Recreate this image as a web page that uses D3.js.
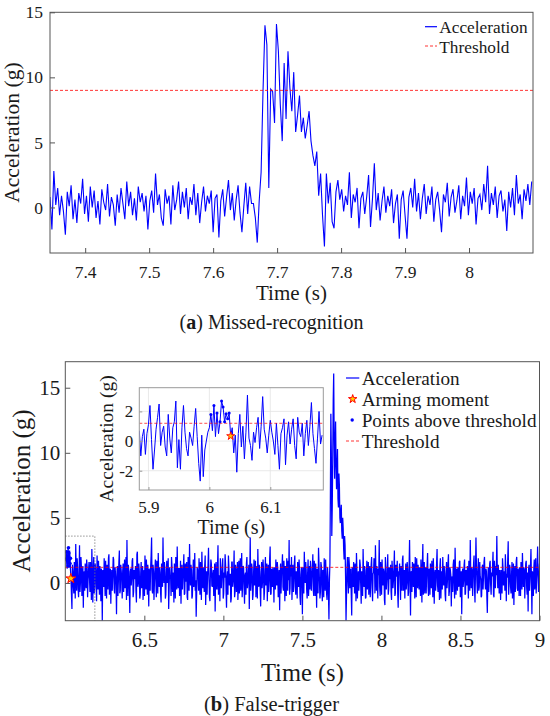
<!DOCTYPE html>
<html>
<head>
<meta charset="utf-8">
<script src="https://cdn.jsdelivr.net/npm/d3@7"></script>
<style>
body { margin: 0; background: #fff; }
svg { display: block; }
</style>
</head>
<body>
<script>
// (a) missed recognition, sampled every 3 ms from 7.345 s
var topT0 = 7.345, topDt = 0.003;
var topAcc = [
  0.8, -1.7, 2.8, 0.2, 1.5, -0.6, 0.9, -0.3, -2.1, 1.2, 0.1, 1.7,
  -0.9, 0.6, -1.2, 1.1, 0.3, 2.2, -0.5, 0.9, -1.1, 1.6, 0.0, 1.3,
  -0.8, 0.5, -1.3, 1.4, 0.4, -0.2, 1.8, -0.7, 0.8, 0.2, -1.4, 1.0,
  -0.4, 1.5, 0.3, -0.9, 2.0, 0.1, 1.2, -0.6, 0.7, -1.0, 1.6, 0.4,
  1.1, -0.3, 0.9, -1.7, 0.5, 1.3, -0.4, 2.6, 0.2, 1.0, -0.8, -1.4,
  1.4, 0.3, 0.9, -1.3, 1.7, -0.2, 0.6, 2.0, -0.5, 1.2, 0.0, 1.5,
  -0.9, 0.8, 0.2, 1.8, -0.6, 1.1, -1.2, 0.4, 1.6, -0.3, 0.9, 0.3,
  1.3, -1.9, 0.7, 1.0, -2.3, 0.5, 1.4, -0.7, 0.8, 2.1, -0.2, 1.1,
  -1.0, 0.6, 1.7, -0.4, -1.9, 0.1, 1.9, -0.5, 1.6, 0.3, 0.3, -0.8,
  -2.7, 0.5, 2.7, 9.0, 14.0, 12.5, 1.5, 9.1, 8.9, 6.5, 14.1, 12.0,
  7.9, 5.1, 11.1, 6.8, 12.0, 9.2, 7.4, 10.4, 5.8, 7.1, 8.6, 5.8,
  6.9, 5.3, 6.3, 7.4, 5.1, 4.0, 3.2, 4.3, 0.9, 2.6, -0.6, -3.0,
  2.6, 0.3, 1.9, -1.1, -1.6, 1.2, 2.1, 0.6, 1.4, -0.3, 0.9, 0.2,
  2.7, -0.8, 1.0, 0.4, 1.5, -1.6, 0.7, 1.2, -0.5, 0.8, 2.5, -1.5,
  0.6, 3.4, -0.2, 1.1, -1.0, 0.5, 1.6, -0.4, 0.9, 0.1, 1.4, -1.2,
  0.3, 1.0, -2.4, 0.6, 1.3, -0.6, -2.4, 0.8, 1.5, 0.0, 2.2, -0.3,
  1.1, -0.9, 0.7, 1.8, -0.5, 0.9, 0.2, 1.6, -1.1, 0.6, 1.2, -0.2,
  -1.9, 1.0, 0.4, 1.9, -0.7, 0.8, 1.4, -0.4, 0.5, 1.7, -0.9, 0.9,
  0.1, 2.3, -0.6, 1.2, 0.3, 1.5, -1.3, 0.7, 1.0, -0.2, 1.8, 0.4,
  3.2, -0.5, 1.1, 0.2, 1.6, -0.8, 0.9, 1.3, -0.3, 0.6, -1.8, 1.2,
  0.0, 1.5, -0.6, 2.5, 0.3, 1.0, -0.9, 1.4, 0.5, 1.8, 0.2, 2.0
];
var topThreshold = 9;
var topXTicks = [7.4, 7.5, 7.6, 7.7, 7.8, 7.9, 8];
var topYTicks = [0, 5, 10, 15];

// (b) false trigger, 3 ms samples from 6.0 s, kept as the 6 ms grid
// (even samples) plus the samples half way between them (odd samples)
var botT0 = 6.0, botDt = 0.003;
var botAccEven = [
  1.8, 2.4, 1.1, 2.7, 1.7, 1.9, 0.35, -2.0, 0.9, -0.8, 0.2, 3.0, -0.6, 1.1, -1.1, 2.9, 0.1, 1.2, 0.4, -1.9,
  0.9, 1.5, -0.4, 1.3, 0.2, 1.6, -0.7, 0.5, 2.6, -1.5, 2.0, -0.3, 1.0, -1.4, 0.6, 1.7, -0.9, 0.4, 1.1, -2.9,
  0.7, 1.9, -1.0, 0.3, 1.4, -0.5, 2.2, 0.1, -1.6, 1.0, 0.5, 1.8, -0.8, 0.6, -2.4, 1.3, 0.2, 2.5, -0.6, 0.9,
  -1.2, 1.5, 0.3, -0.4, 2.0, 3.3, -1.0, 0.8, -2.3, 1.1, 0.4, 1.9, -0.7, 0.6, 1.3, -1.5, 2.4, 0.0, 0.9, -0.9,
  1.6, 0.2, -1.3, 1.0, 2.1, -0.5, 0.7, 1.4, -1.8, 0.4, 1.2, 3.5, -0.8, 0.9, 0.1, 1.8, -1.1, 0.5, 2.3, -0.3,
  0.8, -1.5, 1.3, 3.5, 0.0, 1.0, -0.9, 1.7, 0.3, -2.0, 1.2, 0.6, 2.0, -0.7, 0.4, 1.5, -1.2, 0.9, 2.8, -0.4,
  1.1, 0.2, -1.6, 1.4, 0.5, 2.2, -0.8, 0.7, 1.6, -1.3, 0.3, 3.0, -0.2, 1.0, -1.0, 1.8, 0.4, -0.6, -2.6, 1.2,
  0.6, 1.9, -0.9, 0.8, 2.4, -0.4, 0.1, 1.3, -1.7, 0.9, 0.5, 2.7, -1.1, 0.7, 1.5, -0.3, 1.0, 0.2, -2.2, 1.6,
  -0.5, 2.9, 0.3, -1.4, 1.2, 0.6, 1.9, -0.8, 0.4, 1.4, -1.9, 0.9, 2.1, -0.2, 0.7, -1.2, 1.6, 0.1, 2.5, -0.7,
  1.0, 0.3, -1.3, 1.7, 0.5, -0.6, 2.3, 0.0, 1.2, -1.6, 0.8, 1.5, -0.4, 0.6, -2.0, 3.5, 0.2, 1.1, -0.9, 1.8,
  0.4, -1.1, 1.3, 2.6, -0.3, 0.9, -1.8, 1.6, 0.2, 1.0, -0.7, 2.0, 0.5, -1.4, 1.4, 0.1, 2.8, -0.8, 0.7, 1.2,
  -1.5, 0.6, 1.8, -0.2, 1.1, 0.3, -2.1, 1.5, 0.8, 2.2, -0.6, 0.4, 1.3, -1.0, 0.9, 1.7, 3.3, -0.4, 0.5, -1.3,
  1.4, 0.2, 2.1, -0.9, 0.7, 1.6, -0.3, 0.9, -1.7, 1.2, -2.4, 0.6, 2.4, 0.0, 1.0, -1.2, 1.8, 0.3, -0.5, 1.1,
  0.5, 2.2, -1.0, 0.8, 1.5, -1.9, 0.4, 2.7, 0.1, -0.7, 1.3, -1.4, 0.9, 1.9, -0.6, 0.6, -1.3,
  0.4, -2.8, 1.5, 13.0, 3.6, 9.5, 16.1, 8.0, 12.4, 7.2, 10.3, 5.8, 7.5, 4.6, 6.0, 3.4, 4.2, 1.8, 2.9, -2.9, 1.2, 0.3, 2.0,
  -0.4, 1.1, -2.5, 0.7, 1.6, -0.8, 0.5, 2.3, -1.2, 0.9, 0.2, 1.4, -1.6, 0.6, 2.6, -0.3, 1.0, -1.1, 1.7, 0.4,
  -0.9, 1.3, 0.1, 2.0, -1.4, 0.8, 1.5, 2.9, -0.6, 0.4, 1.1, 3.3, -1.0, 0.7, 1.8, -0.2, 0.9, -1.7, 1.2, 0.3,
  2.2, -0.5, 0.6, 1.4, -1.3, 1.0, 0.2, 2.5, -0.8, 0.5, 1.7, -1.9, 0.8, 0.0, 1.3, -0.6, 2.1, 0.4, -1.2, 1.5,
  0.1, 1.0, -0.7, 3.3, -2.5, 0.9, 1.6, -0.3, 0.6, 2.0, -1.1, 0.7, 1.4, -0.5, 0.2, 1.8, -1.5, 3.0, 0.4, -0.8,
  1.2, 0.5, 2.3, -1.0, 0.8, 1.5, -0.4, 0.3, 1.9, -1.6, 1.0, 0.2, 2.6, -0.7, 0.6, 1.3, -1.2, 0.9, 2.0, -0.2,
  0.7, -1.4, 1.6, 0.3, 2.2, -0.6, 1.0, -1.8, 0.5, 1.4, 0.0, 2.7, -0.9, 0.8, 1.2, -0.3, 1.7, 0.4, -2.4, 1.1,
  0.2, 1.8, -0.8, 0.6, 1.3, -1.2, 0.9, 3.3, -0.4, 1.0, 0.5, 2.1, -1.5, 3.5, 0.1, 0.8, -0.6, 1.6, 0.3, -1.0,
  1.4, 0.6, 2.0, -0.5, 0.9, -2.3, 1.2, 0.2, 1.7, -0.9, 0.5, 2.4, -1.1, 0.8, 1.3, 3.6, -0.4, 0.7, 1.0, -1.3,
  0.6, 1.9, -0.2, 0.9, 2.2, -1.4, 0.4, 3.2, 0.0, 1.1, -0.8, 1.6, 0.3, -1.7, 1.3, 0.7, 2.0, -0.6, 0.5, 1.2,
  -1.0, 0.8, 2.3, -0.3, 1.0, 0.4, 1.7, -0.9, -2.2, 1.4, 0.2, 2.6, -2.4, 0.6, 1.1, -0.5, 1.9, 0.3, 2.8, -0.7,
  1.5
];
var botAccOdd = [
  2.0, 1.5, 2.2, 1.4, 2.5, 1.0, -0.9, 1.4, -0.2, 1.6, -1.2, 0.8, 1.9, -0.4, 0.5, -0.7, 2.0, -1.0, 1.3, 0.6,
  -0.6, 0.3, 1.8, -1.1, 1.0, 0.4, 1.6, -1.3, 0.7, 0.9, -0.8, 1.5, -0.2, 2.1, -0.5, 0.2, 1.3, -1.4, 0.5, 1.0,
  -0.3, 0.6, 1.7, -1.2, 0.8, 1.9, -0.9, 1.1, 0.4, -0.6, 2.0, -0.4, 1.2, 0.0, 0.9, -1.0, 1.6, -0.8, 1.4, 0.3,
  0.9, -0.7, 1.8, 0.5, -1.3, 0.6, 1.4, -0.5, 0.9, -0.2, 1.7, -1.1, 1.0, 0.3, -0.6, 2.2, -0.3, 1.5, -1.2, 0.7,
  -0.4, 1.3, 0.6, -1.0, 0.4, 1.8, -0.9, 0.2, 1.1, -0.6, 2.1, -0.5, 1.4, -1.3, 1.0, 0.1, 1.7, -0.8, 0.6, 1.2,
  -0.8, 1.5, -0.3, 0.9, 1.6, -1.2, 0.7, 0.0, 1.9, -0.4, 0.5, -1.0, 1.3, 0.8, -1.5, 0.9, 2.0, -0.5, 0.4, 1.1,
  -1.0, 1.7, 0.4, -0.5, 1.2, -0.9, 1.5, 0.1, -1.1, 2.0, -0.6, 0.8, 1.4, -1.2, 0.6, -0.3, 2.3, 0.2, -0.8, 1.0,
  -0.6, 0.4, 1.6, -1.3, 0.9, 1.2, -0.7, 2.1, 0.0, -0.9, 1.4, 0.3, -1.4, 1.8, -0.2, 0.7, -1.0, 1.5, 0.5, -0.4,
  1.3, -0.9, 0.6, 1.9, -0.4, 1.0, -1.2, 0.8, 2.2, -0.6, 0.5, -0.9, 1.2, 0.4, -1.5, 1.6, -0.3, 0.9, -1.1, 1.4,
  -0.7, 1.6, 0.2, -0.8, 1.9, 0.7, -1.1, 1.3, -0.4, 0.6, -0.9, 2.0, 0.1, 1.4, 0.8, -0.6, 1.5, -1.3, 0.7, -0.2,
  1.7, 0.5, -1.2, 0.8, 1.4, -0.6, 0.6, -0.4, 1.8, -1.3, 0.9, -0.2, 1.5, 0.3, -0.7, 1.9, -0.9, 1.1, -0.3, 0.5,
  1.2, -0.5, 0.4, 1.6, -1.1, 1.0, 0.6, -0.8, 1.3, -0.3, 1.7, -1.4, 0.5, 1.9, -0.6, 0.2, -0.9, 1.4, 2.0, 0.4,
  -0.7, 1.5, -0.3, 0.9, -1.2, 0.8, 1.8, -1.1, 0.6, 0.3, 1.2, -0.8, 0.9, 1.6, -0.5, 0.7, -1.0, 1.3, 1.7, -0.6,
  1.0, -0.6, 1.7, -1.0, 0.3, 1.1, -0.8, 1.5, -1.2, 1.6, -0.3, 1.0, -1.1, 0.6, 1.8, -0.8, 1.2, -1.0, 0.2, 6.5,
  10.0, 6.0, 14.0, 11.0, 10.5, 9.0, 8.8, 6.5, 8.4, 5.0, 5.5, 4.0, 5.0, 2.6, 3.6, 0.5, -1.0, 2.0, -0.8, 1.4,
  0.8, -0.9, 1.2, -0.3, 0.6, 1.5, -1.4, 1.0, 0.4, -0.6, 1.8, -0.2, 0.9, -1.0, 0.7, 1.3, -1.2, 0.8, -0.5, 1.6,
  0.5, -1.1, 1.4, -0.4, 0.7, 1.9, -0.8, 1.0, 1.3, -1.2, 0.6, -0.3, 1.6, -0.9, 0.4, 1.1, -1.3, 2.0, -0.5, 0.8,
  -0.9, 1.2, 0.3, -0.7, 1.7, -0.4, 1.1, -1.0, 1.4, 0.6, -0.8, 0.9, 1.5, -1.3, 0.5, 1.8, -0.6, 1.0, 0.2, -0.5,
  1.6, -1.0, 1.3, 0.4, 0.8, -0.7, 1.1, 1.5, -1.2, 0.5, 1.9, -0.4, 0.7, 1.2, -1.0, 0.6, 1.4, -0.9, 1.6, 0.3,
  -0.8, 1.4, -0.3, 1.1, -0.9, 0.6, 1.7, -1.1, 0.8, 0.5, -0.6, 1.5, -0.2, 1.0, -1.3, 1.9, 0.4, -0.5, 0.7, 1.3,
  -0.9, 0.9, -0.4, 1.5, -1.0, 1.2, 0.6, 0.3, -0.7, 1.8, -1.2, 0.7, 1.1, -0.6, 0.4, 1.6, -1.1, 0.9, 0.6, -0.3,
  1.4, -0.9, 1.0, -0.2, 0.7, 1.7, -0.6, 0.8, 1.2, -1.0, 1.5, -0.5, 0.9, 1.4, -0.8, 1.9, -0.3, 0.5, -1.1, 1.2,
  -0.5, 1.6, 0.3, 1.1, -1.1, 0.4, -0.7, 1.5, -0.2, 0.8, 1.3, -0.9, 1.7, -0.4, 0.6, 0.9, 1.4, -0.8, 0.2, 1.0,
  -0.8, 1.2, 0.6, -0.6, 1.0, 0.7, 1.8, -0.9, 1.4, -0.3, 0.6, -1.2, 1.5, 0.4, -0.7, 1.7, -0.4, 1.1, -1.0, 0.5,
  1.6, -0.5, 0.9, 1.2, -1.2, 1.5, -0.4, 0.8, 1.1, -0.6, 1.3, 0.2, 0.9, -1.0, 1.8, 0.4, -0.8, 1.2, 0.6, 0.3
];
var botThreshold = 1.2;
var botXTicks = [6.5, 7, 7.5, 8, 8.5, 9];
var botYTicks = [0, 5, 10, 15];

// inset, sampled every 2.5 ms from 5.885 s
var insetT0 = 5.885, insetDt = 0.0025;
var insetAcc = [
  0.7, -1.0, 0.3, 0.8, -0.9, 0.5, 1.1, 2.4, 0.1, -1.9,
  -0.6, 0.8, 1.6, 2.5, -0.3, 0.6, 1.0, -0.4, -1.0, 1.8,
  0.2, -0.8, 0.9, 1.3, 2.7, -1.8, 0.1, -1.9, 0.9, 2.4,
  0.6, -0.5, -1.0, 0.6, 0.2, -0.3, 1.0, 2.2, 0.3, -1.5,
  -2.7, 0.4, -2.4, -0.6, 0.0, 0.6, 0.9, 1.8, 0.7, 2.4,
  0.3, 1.9, 0.5, 1.3, 2.7, 2.3, 1.3, 1.85, 1.5, 1.9,
  0.34, 0.9, -0.8, 0.4, -2.1, 0.5, 1.8, -0.4, 1.0, -1.2,
  0.6, 3.1, 0.2, -0.3, -1.3, 0.6, -0.1, 0.9, 1.6, -0.5,
  1.0, 3.0, 0.8, 0.2, -0.8, 0.4, 1.4, 0.6, 0.0, -0.9,
  1.2, -0.3, -1.9, 0.5, 0.9, 1.5, -1.6, 0.4, 1.3, -0.2,
  0.8, 1.5, -0.3, -1.2, 1.6, 0.6, 0.3, 1.2, -1.0, 0.5,
  1.4, -0.3, 1.0, 2.6, 0.5, -0.5, -1.5, 0.2, 2.0, -0.2,
  0.4
];
var insetXTicks = [5.9, 6, 6.1];
var insetYTicks = [-2, 0, 2];
var armTime = 6.035, armValue = 0.34;

var blue = "#0000ff", red = "#ff0000", ink = "#1a1a1a";

var svg = d3.select("body").append("svg")
    .attr("width", 550)
    .attr("height", 716);

function num(d) { return String(d); }

// font is set on each text itself, one family, no fallback list
function serifText(sel, fs) {
    return sel.attr("font-family", null)
        .style("font-family", "\"Liberation Serif\"")
        .style("font-size", fs + "px")
        .attr("fill", ink);
}

function addClip(id, x, y) {
    svg.append("clipPath").attr("id", id).append("rect")
        .attr("x", x.range()[0])
        .attr("y", y.range()[1])
        .attr("width", x.range()[1] - x.range()[0])
        .attr("height", y.range()[0] - y.range()[1]);
}

function addAxes(x, y, xTicks, yTicks, fs, xPad, yPad, tick, col) {
    var xa = svg.append("g")
        .attr("transform", "translate(0," + y.range()[0] + ")")
        .call(d3.axisBottom(x).tickValues(xTicks).tickFormat(num).tickSize(-tick).tickPadding(xPad));
    var ya = svg.append("g")
        .attr("transform", "translate(" + x.range()[0] + ",0)")
        .call(d3.axisLeft(y).tickValues(yTicks).tickFormat(num).tickSize(-tick).tickPadding(yPad));
    [xa, ya].forEach(function(a) {
        a.attr("font-family", null).attr("font-size", null);
        a.select(".domain").remove();
        a.selectAll(".tick line").attr("stroke", col);
        serifText(a.selectAll(".tick text"), fs);
    });
    svg.append("rect")
        .attr("x", x.range()[0])
        .attr("y", y.range()[1])
        .attr("width", x.range()[1] - x.range()[0])
        .attr("height", y.range()[0] - y.range()[1])
        .attr("fill", "none")
        .attr("stroke", col)
        .attr("stroke-width", 1);
}

function label(txt, x, y, fs, rot) {
    return serifText(svg.append("text"), fs)
        .attr("transform", "translate(" + x + "," + y + ")" + (rot ? " rotate(-90)" : ""))
        .attr("text-anchor", "middle")
        .text(txt);
}

function legendText(txt, x, y, fs) {
    return serifText(svg.append("text"), fs)
        .attr("x", x).attr("y", y)
        .text(txt);
}

function caption(tag, rest, x, y, fs) {
    var t = serifText(svg.append("text"), fs)
        .attr("x", x).attr("y", y)
        .attr("text-anchor", "middle");
    t.append("tspan").text("(");
    t.append("tspan").style("font-weight", "bold").text(tag);
    t.append("tspan").text(") " + rest);
}

//////////////////////////////
// (a) Missed-recognition
//////////////////////////////
var xTop = d3.scaleLinear().domain([7.345, 8.1]).range([50, 533]);
var yTop = d3.scaleLinear().domain([-3.5, 15]).range([253, 12.3]);
addClip("clipTop", xTop, yTop);

var topLine = d3.line()
    .x(function(d, i) { return xTop(topT0 + i * topDt); })
    .y(function(d) { return yTop(d); });

svg.append("path")
    .datum(topAcc)
    .attr("clip-path", "url(#clipTop)")
    .attr("d", topLine)
    .attr("fill", "none")
    .attr("stroke", blue)
    .attr("stroke-width", 1.1);

svg.append("line")
    .attr("x1", xTop.range()[0]).attr("x2", xTop.range()[1])
    .attr("y1", yTop(topThreshold)).attr("y2", yTop(topThreshold))
    .attr("stroke", red)
    .attr("stroke-width", 0.8)
    .attr("stroke-dasharray", "3,2");

addAxes(xTop, yTop, topXTicks, topYTicks, 17.5, 13, 7, 5, "#555");
label("Acceleration (g)", 19, 132.6, 21.5, true);
label("Time (s)", 291.5, 300, 21, false);
caption("a", "Missed-recognition", 271.5, 329, 20);

// legend (a)
svg.append("line")
    .attr("x1", 425).attr("x2", 437).attr("y1", 26.7).attr("y2", 26.7)
    .attr("stroke", blue).attr("stroke-width", 1.2);
svg.append("line")
    .attr("x1", 425).attr("x2", 437).attr("y1", 46).attr("y2", 46)
    .attr("stroke", red).attr("stroke-width", 0.8).attr("stroke-dasharray", "3,2");
legendText("Acceleration", 439.3, 32.5, 17.3);
legendText("Threshold", 439.3, 52.5, 17.3);

//////////////////////////////
// (b) False-trigger
//////////////////////////////
var botAcc = [];
botAccEven.forEach(function(v, i) {
    botAcc.push(v);
    if (i < botAccOdd.length) botAcc.push(botAccOdd[i]);
});

var xBot = d3.scaleLinear().domain([6.0, 9.0]).range([65.3, 539.5]);
var yBot = d3.scaleLinear().domain([-2.9, 17]).range([620.7, 361.7]);
addClip("clipBot", xBot, yBot);

var botLine = d3.line()
    .x(function(d, i) { return xBot(botT0 + i * botDt); })
    .y(function(d) { return yBot(d); });

var bot = svg.append("g").attr("clip-path", "url(#clipBot)");
bot.append("path")
    .datum(botAcc)
    .attr("d", botLine)
    .attr("fill", "none")
    .attr("stroke", blue)
    .attr("stroke-width", 1.25);

bot.append("line")
    .attr("x1", xBot.range()[0]).attr("x2", xBot.range()[1])
    .attr("y1", yBot(botThreshold)).attr("y2", yBot(botThreshold))
    .attr("stroke", red)
    .attr("stroke-width", 0.8)
    .attr("stroke-dasharray", "3,2");

// zoomed window outline
bot.append("rect")
    .attr("x", xBot(insetT0))
    .attr("y", yBot(3.6))
    .attr("width", xBot(6.187) - xBot(insetT0))
    .attr("height", yBot(-3.3) - yBot(3.6))
    .attr("fill", "none")
    .attr("stroke", "#777")
    .attr("stroke-width", 0.8)
    .attr("stroke-dasharray", "1.5,1.5");

// samples above threshold before arming
var insetPts = insetAcc.map(function(v, i) { return { t: insetT0 + i * insetDt, v: v }; });
var abovePts = insetPts.filter(function(d) {
    return d.t >= 5.9999 && d.t < armTime && d.v > botThreshold;
});

bot.selectAll(".dotB").data(abovePts).enter().append("circle")
    .attr("cx", function(d) { return xBot(d.t); })
    .attr("cy", function(d) { return yBot(d.v); })
    .attr("r", 1.8)
    .attr("fill", blue);

var star = d3.symbol().type(d3.symbolStar);
bot.append("path")
    .attr("d", star.size(30)())
    .attr("transform", "translate(" + xBot(armTime) + "," + yBot(armValue) + ")")
    .attr("fill", "#ffcc00")
    .attr("stroke", red)
    .attr("stroke-width", 1);

addAxes(xBot, yBot, botXTicks, botYTicks, 21, 11, 5, 5, "#555");
label("Acceleration (g)", 30, 491, 25, true);
label("Time (s)", 302.4, 681, 24.5, false);
caption("b", "False-trigger", 271.5, 711, 20.5);

// legend (b)
var legB = ["Acceleration", "Arming moment", "Points above threshold", "Threshold"];
var legBy = [384.5, 405.5, 426.5, 447.5];
svg.append("line")
    .attr("x1", 346).attr("x2", 359.3).attr("y1", legBy[0] - 6.5).attr("y2", legBy[0] - 6.5)
    .attr("stroke", blue).attr("stroke-width", 1.2);
svg.append("path")
    .attr("d", star.size(22)())
    .attr("transform", "translate(352.7," + (legBy[1] - 6.5) + ")")
    .attr("fill", "#ffcc00").attr("stroke", red).attr("stroke-width", 1);
svg.append("circle")
    .attr("cx", 352.2).attr("cy", legBy[2] - 6.5).attr("r", 1.7).attr("fill", blue);
svg.append("line")
    .attr("x1", 346).attr("x2", 359.3).attr("y1", legBy[3] - 6.5).attr("y2", legBy[3] - 6.5)
    .attr("stroke", red).attr("stroke-width", 0.8).attr("stroke-dasharray", "3,2");
legB.forEach(function(s, i) {
    legendText(s, 361.7, legBy[i], 19.2);
});

//////////////////////////////
// inset
//////////////////////////////
var xIn = d3.scaleLinear().domain([5.885, 6.187]).range([139.3, 323.3]);
var yIn = d3.scaleLinear().domain([-3.3, 3.6]).range([490, 387.7]);
addClip("clipIn", xIn, yIn);

svg.append("rect")
    .attr("x", 139.3).attr("y", 387.7)
    .attr("width", 184).attr("height", 102.3)
    .attr("fill", "#fff");

var grid = svg.append("g").attr("stroke", "#e3e3e3").attr("stroke-width", 0.8);
insetXTicks.forEach(function(t) {
    grid.append("line").attr("x1", xIn(t)).attr("x2", xIn(t))
        .attr("y1", yIn.range()[0]).attr("y2", yIn.range()[1]);
});
insetYTicks.forEach(function(t) {
    grid.append("line").attr("x1", xIn.range()[0]).attr("x2", xIn.range()[1])
        .attr("y1", yIn(t)).attr("y2", yIn(t));
});

var inLine = d3.line()
    .x(function(d) { return xIn(d.t); })
    .y(function(d) { return yIn(d.v); });

var ins = svg.append("g").attr("clip-path", "url(#clipIn)");
ins.append("path")
    .datum(insetPts)
    .attr("d", inLine)
    .attr("fill", "none")
    .attr("stroke", blue)
    .attr("stroke-width", 1);
ins.append("line")
    .attr("x1", xIn.range()[0]).attr("x2", xIn.range()[1])
    .attr("y1", yIn(botThreshold)).attr("y2", yIn(botThreshold))
    .attr("stroke", red)
    .attr("stroke-width", 0.7)
    .attr("stroke-dasharray", "3,2");
ins.selectAll(".dotI").data(abovePts).enter().append("circle")
    .attr("cx", function(d) { return xIn(d.t); })
    .attr("cy", function(d) { return yIn(d.v); })
    .attr("r", 1.5)
    .attr("fill", blue);
ins.append("path")
    .attr("d", star.size(20)())
    .attr("transform", "translate(" + xIn(armTime) + "," + yIn(armValue) + ")")
    .attr("fill", "#ffcc00")
    .attr("stroke", red)
    .attr("stroke-width", 0.9);

addAxes(xIn, yIn, insetXTicks, insetYTicks, 17, 11, 6, 3, "#9a9a9a");
label("Acceleration (g)", 113, 438.9, 19.5, true);
label("Time (s)", 231.3, 533.5, 20, false);
</script>
</body>
</html>
